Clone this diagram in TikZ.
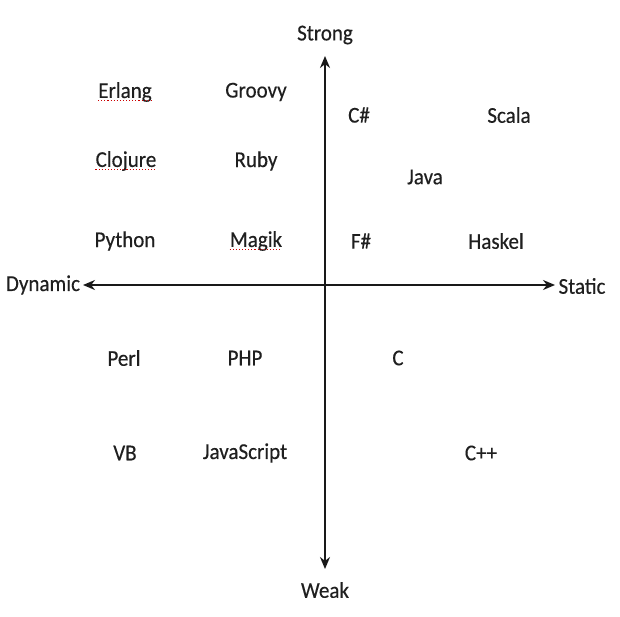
\documentclass[tikz,border=0pt]{standalone}
\usepackage{fontspec}
\setmainfont{Carlito}[FakeBold=0.35]
\usetikzlibrary{arrows.meta}
\begin{document}
\begin{tikzpicture}[x=1pt,y=-1pt,
  lang/.style={font=\fontsize{21}{24}\selectfont, text=black!88, inner sep=0pt, yscale=1.08},
  axis/.style={line width=1.9pt, black!90, {Stealth[length=12pt,width=10pt]}-{Stealth[length=12pt,width=10pt]}},
  squig/.style={red!80!black, line width=1.1pt, dotted}]
\useasboundingbox (0,0) rectangle (620,616);
\fill[white] (0,0) rectangle (620,616);
% axis labels
\node[lang] (strong) at (325,35) {Strong};
\node[lang] (weak) at (325,590) {Weak};
\node[lang] (dyn) at (43,285) {Dynamic};
\node[lang] (stat) at (582,286) {Static};
\coordinate (top) at (325,56);
\coordinate (bot) at (325,569);
\coordinate (left) at (83,285);
\coordinate (right) at (555,285);
\draw[axis] (bot) -- (top);
\draw[axis] (left) -- (right);
% languages
\node[lang] (erlang) at (125,92) {Erlang};
\node[lang] (groovy) at (256,92) {Groovy};
\node[lang] (csharp) at (359,115) {C\#};
\node[lang] (scala) at (509,115) {Scala};
\node[lang] (clojure) at (126,161) {Clojure};
\node[lang] (ruby) at (256,161) {Ruby};
\node[lang] (java) at (425,177) {Java};
\node[lang] (python) at (125,241) {Python};
\node[lang] (magik) at (256,241) {Magik};
\node[lang] (fsharp) at (361,241) {F\#};
\node[lang] (haskel) at (496,241) {Haskel};
\node[lang] (perl) at (124,358) {Perl};
\node[lang] (php) at (245,358) {PHP};
\node[lang] (c) at (398,358) {C};
\node[lang] (vb) at (125,453) {VB};
\node[lang] (js) at (245,453) {JavaScript};
\node[lang] (cpp) at (481,453) {C++};
% spell-check underlines
\draw[squig] ([yshift=-3pt]erlang.base west) -- ([yshift=-3pt]erlang.base east);
\draw[squig] ([yshift=-3pt]clojure.base west) -- ([yshift=-3pt]clojure.base east);
\draw[squig] ([yshift=-3pt]magik.base west) -- ([yshift=-3pt]magik.base east);
\end{tikzpicture}
\end{document}
